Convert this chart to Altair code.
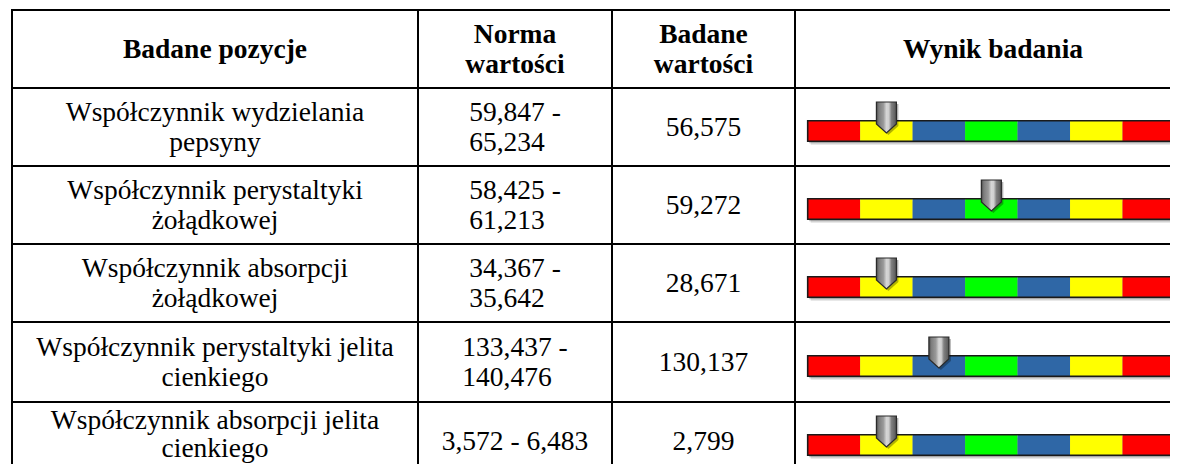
import altair as alt
import pandas as pd

# ---------------- data ----------------
headers = ["Badane pozycje", "Norma\nwartości", "Badane\nwartości", "Wynik badania"]
positions = [
    "Współczynnik wydzielania\npepsyny",
    "Współczynnik perystaltyki\nżołądkowej",
    "Współczynnik absorpcji\nżołądkowej",
    "Współczynnik perystaltyki jelita\ncienkiego",
    "Współczynnik absorpcji jelita\ncienkiego",
]
norms = ["59,847 -\n65,234", "58,425 -\n61,213", "34,367 -\n35,642", "133,437 -\n140,476", "3,572 - 6,483"]
measured = ["56,575", "59,272", "28,671", "130,137", "2,799"]
gauge_pos = [1.5, 3.5, 1.5, 2.5, 1.5]          # marker position, in gauge segments (0..7)
segment_colors = ["#FF0000", "#FFFF00", "#2F67A6", "#00FF00", "#2F67A6", "#FFFF00", "#FF0000"]

# ---------------- layout (reference pixel coordinates) ----------------
W, H = 1162, 456            # fits the 1178x472 page with its 8px margins
col_edges = [12, 418, 612, 795, 1191]
row_edges = [10, 88, 166, 244, 322, 402, 480]
FONT = "Liberation Serif"
FS = 27.5
LH = 30
BASE = 9
GAUGE_X = [807.7, 1175.0]
BAR_H = 20.5
BOTTOM = 8 + H - 0.24 * FS  # lowest baseline whose descenders remain visible

xs = alt.Scale(domain=[8, 8 + W], range=[0, W], nice=False, zero=False)
ys = alt.Scale(domain=[8, 8 + H], range=[0, H], nice=False, zero=False)
gx = alt.Scale(domain=[0, len(segment_colors)], range=[GAUGE_X[0] - 8, GAUGE_X[1] - 8], nice=False, zero=False)

# ---------------- table grid ----------------
right_edge = 8 + W
hlines = pd.DataFrame({"y": row_edges, "x1": col_edges[0], "x2": right_edge})
vlines = pd.DataFrame({"x": col_edges[:-1], "y1": row_edges[0], "y2": row_edges[-1]})

h_rules = alt.Chart(hlines).mark_rule(color="black", strokeWidth=2, strokeCap="butt").encode(
    x=alt.X("x1:Q", scale=xs, axis=None), x2="x2:Q", y=alt.Y("y:Q", scale=ys, axis=None))
v_rules = alt.Chart(vlines).mark_rule(color="black", strokeWidth=2, strokeCap="square").encode(
    x=alt.X("x:Q", scale=xs, axis=None), y=alt.Y("y1:Q", scale=ys, axis=None), y2="y2:Q")

# ---------------- text ----------------
def char_w(c):
    if c.isdigit():
        return 0.5
    return {",": 0.25, " ": 0.25, "-": 0.333}.get(c, 0.5)

def text_w(s):
    return sum(char_w(c) for c in s) * FS

centers = [(col_edges[i] + col_edges[i + 1]) / 2 for i in range(4)]

def lines_for(txt, top, bot, cx, left_block=False):
    lines = txt.split("\n")
    mid = (top + bot) / 2
    n = len(lines)
    ys_ = [mid + BASE + (i - (n - 1) / 2) * LH for i in range(n)]
    if ys_[-1] > BOTTOM:                    # keep the last line inside the page
        lh = 28.5
        ys_ = [BOTTOM - (n - 1 - i) * lh for i in range(n)]
    left = cx - text_w(lines[0]) / 2
    return [{"x": left if left_block else cx, "y": y, "t": ln} for ln, y in zip(lines, ys_)]

head_rows, body_rows, norm_rows = [], [], []
for c, h in enumerate(headers):
    head_rows += lines_for(h, row_edges[0], row_edges[1], centers[c])
for r in range(len(positions)):
    top, bot = row_edges[r + 1], row_edges[r + 2]
    body_rows += lines_for(positions[r], top, bot, centers[0])
    body_rows += lines_for(measured[r], top, bot, centers[2])
    norm_rows += lines_for(norms[r], top, bot, centers[1], left_block=True)

def text_layer(rows, bold=False, align="center"):
    return alt.Chart(pd.DataFrame(rows)).mark_text(
        font=FONT, fontSize=FS, fontWeight="bold" if bold else "normal",
        align=align, baseline="alphabetic", color="black").encode(
        x=alt.X("x:Q", scale=xs, axis=None), y=alt.Y("y:Q", scale=ys, axis=None), text="t:N")

texts = alt.layer(text_layer(head_rows, bold=True), text_layer(body_rows),
                  text_layer(norm_rows, align="left"))

table = alt.layer(h_rules, v_rules, texts)

# ---------------- gauges ----------------
seg_rows, bar_rows, mk_rows = [], [], []
for r in range(len(positions)):
    mid = (row_edges[r + 1] + row_edges[r + 2]) / 2
    btop, bbot = mid + 4 - BAR_H / 2, mid + 4 + BAR_H / 2
    for i, col in enumerate(segment_colors):
        seg_rows.append({"a": i, "b": i + 1, "y1": btop, "y2": bbot, "c": col})
    bar_rows.append({"a": 0, "b": len(segment_colors), "y1": btop, "y2": bbot})
    mk_rows.append({"p": gauge_pos[r], "y": mid - 9.5})

segs_df = pd.DataFrame(seg_rows)
bar_df = pd.DataFrame(bar_rows)
mk_df = pd.DataFrame(mk_rows)

def bar_enc(ch):
    return ch.encode(x=alt.X("a:Q", scale=gx, axis=None), x2="b:Q",
                     y=alt.Y("y1:Q", scale=ys, axis=None), y2="y2:Q")

shadow2 = bar_enc(alt.Chart(bar_df).mark_rect(color="black", opacity=0.12,
                  xOffset=3, x2Offset=3.5, yOffset=3, y2Offset=3.5))
shadow1 = bar_enc(alt.Chart(bar_df).mark_rect(color="black", opacity=0.25,
                  xOffset=1.5, x2Offset=2, yOffset=1.5, y2Offset=2))
segs = bar_enc(alt.Chart(segs_df).mark_rect(strokeWidth=0)).encode(color=alt.Color("c:N", scale=None))
border = bar_enc(alt.Chart(bar_df).mark_rect(fillOpacity=0, stroke="#1a1a1a", strokeWidth=1.6))

SHAPE = "M-0.645,-1 L0.645,-1 L0.645,0.42 L0,1 L-0.645,0.42 Z"
grad = {"gradient": "linear", "x1": 0, "y1": 0, "x2": 1, "y2": 0,
        "stops": [{"offset": 0, "color": "#4a4a4a"},
                  {"offset": 0.12, "color": "#7c7c7c"},
                  {"offset": 0.35, "color": "#9a9a9a"},
                  {"offset": 0.5, "color": "#d6d6d6"},
                  {"offset": 0.62, "color": "#cfcfcf"},
                  {"offset": 0.75, "color": "#808080"},
                  {"offset": 1, "color": "#555555"}]}

mk_shadow = alt.Chart(mk_df).mark_point(shape=SHAPE, size=961, filled=True, fill="black",
                                         opacity=0.3, strokeWidth=0, xOffset=2, yOffset=2).encode(
    x=alt.X("p:Q", scale=gx, axis=None), y=alt.Y("y:Q", scale=ys, axis=None))
marker = alt.Chart(mk_df).mark_point(shape=SHAPE, size=961, filled=True, fill=grad,
                                      stroke="#2a2a2a", strokeWidth=1.2, opacity=1).encode(
    x=alt.X("p:Q", scale=gx, axis=None), y=alt.Y("y:Q", scale=ys, axis=None))

gauges = alt.layer(shadow2, shadow1, segs, border, mk_shadow, marker)

chart = alt.layer(table, gauges).resolve_scale(x="independent").properties(
    width=W, height=H, padding=0, autosize=alt.AutoSizeParams(type="none"),
    background="white").configure_view(strokeWidth=0)

chart.save("out.html", embed_options={"renderer": "svg", "actions": False})
